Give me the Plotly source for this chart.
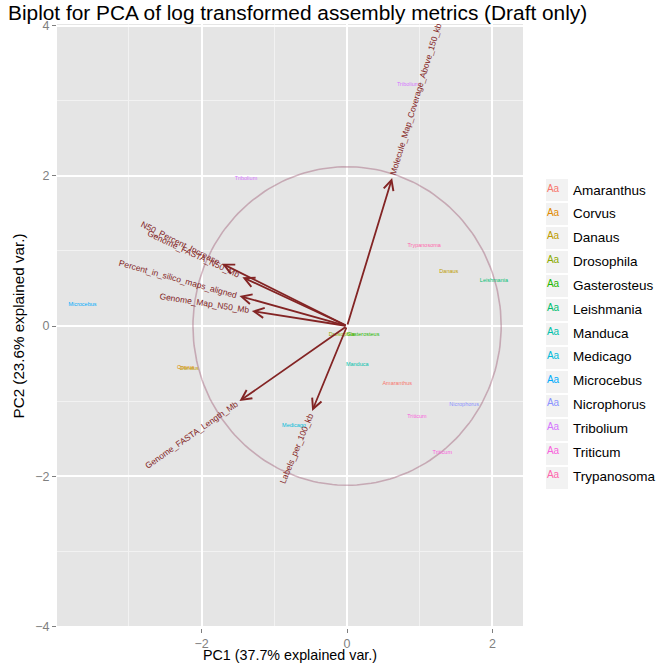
import math
import plotly.graph_objects as go

# ---------------- data ----------------
groups = ["Amaranthus", "Corvus", "Danaus", "Drosophila", "Gasterosteus", "Leishmania",
          "Manduca", "Medicago", "Microcebus", "Nicrophorus", "Tribolium", "Triticum",
          "Trypanosoma"]
group_colors = ["#F8766D", "#E18A00", "#BE9C00", "#8CAB00", "#24B700", "#00BE70",
                "#00C1AB", "#00BBDA", "#00ACFC", "#8B93FF", "#D575FE", "#F962DD",
                "#FF65AC"]

sample_group = ["Microcebus", "Tribolium", "Tribolium", "Trypanosoma", "Danaus", "Leishmania",
                "Drosophila", "Gasterosteus", "Manduca", "Amaranthus", "Nicrophorus",
                "Triticum", "Triticum", "Corvus", "Danaus", "Medicago"]
sample_pc1 = [-3.64, 0.84, -1.39, 1.06, 1.40, 2.02, -0.07, 0.22, 0.14, 0.69, 1.61,
              0.96, 1.31, -2.22, -2.17, -0.73]
sample_pc2 = [0.29, 3.21, 1.96, 1.07, 0.72, 0.61, -0.11, -0.11, -0.51, -0.77, -1.05,
              -1.21, -1.69, -0.56, -0.57, -1.33]

var_names = ["Molecule_Map_Coverage_Above_150_kb", "N50_Percent_Increase",
             "Genome_FASTA_N50_Mb", "Percent_in_silico_maps_aligned",
             "Genome_Map_N50_Mb", "Genome_FASTA_Length_Mb", "Labels_per_100_kb"]
var_pc1 = [0.62, -1.72, -1.44, -1.48, -1.31, -1.48, -0.48]
var_pc2 = [1.97, 0.83, 0.65, 0.40, 0.20, -1.00, -1.13]

circle_radius = 2.12

x_ticks = [-2, 0, 2]
y_ticks = [-4, -2, 0, 2, 4]

# ---------------- layout geometry ----------------
W, H = 656, 668
ML, MR, MT, MB = 57, 133, 24, 40
XR = [-3.99, 2.42]
YR = [-4.02, 4.02]
pw = W - ML - MR
ph = H - MT - MB
sx = pw / (XR[1] - XR[0])
sy = ph / (YR[1] - YR[0])

ARROW_COL = "#832424"
LABEL_SIZE = 8.5

HW = {c: .556 for c in "abdeghnopqu0123456789_"}
HW.update({'c': .5, 'f': .278, 'i': .222, 'j': .222, 'k': .5, 'l': .222, 'm': .833,
           'r': .333, 's': .5, 't': .278, 'v': .5, 'w': .722, 'x': .5, 'y': .5, 'z': .5,
           'A': .667, 'B': .667, 'C': .722, 'D': .722, 'E': .667, 'F': .611, 'G': .778,
           'H': .722, 'I': .278, 'L': .556, 'M': .833, 'N': .722, 'P': .667, 'R': .722,
           'S': .667, 'T': .611})


def text_width(s, size):
    return sum(HW.get(ch, .556) for ch in s) * size


fig = go.Figure()

# circle
th = [2 * math.pi * i / 200 for i in range(201)]
fig.add_trace(go.Scatter(x=[circle_radius * math.cos(t) for t in th],
                         y=[circle_radius * math.sin(t) for t in th],
                         mode="lines", line=dict(color="rgba(160,95,120,0.45)", width=1.6),
                         showlegend=False, hoverinfo="skip"))

# sample labels
for i, g in enumerate(groups):
    xs = [sample_pc1[k] for k in range(len(sample_group)) if sample_group[k] == g]
    ys = [sample_pc2[k] for k in range(len(sample_group)) if sample_group[k] == g]
    fig.add_trace(go.Scatter(x=xs, y=ys, mode="text", text=[g] * len(xs), name=g,
                             textfont=dict(color=group_colors[i], size=5.5,
                                           family="Liberation Sans"),
                             legendgroup=g, cliponaxis=False))

annotations = []
for name, vx, vy in zip(var_names, var_pc1, var_pc2):
    annotations.append(dict(x=vx, y=vy, ax=0, ay=0, xref="x", yref="y", axref="x", ayref="y",
                            showarrow=True, arrowhead=5, arrowsize=1.1, arrowwidth=1.8,
                            arrowcolor=ARROW_COL, text=""))
    dx, dy = vx * sx, -vy * sy
    L = math.hypot(dx, dy)
    ux, uy = dx / L, dy / L
    w = text_width(name, LABEL_SIZE)
    off = w / 2 + 3
    cx = vx + ux * off / sx
    cy = vy - uy * off / sy
    ang = math.degrees(math.atan(dy / dx))
    annotations.append(dict(x=cx, y=cy, xref="x", yref="y", text=name, showarrow=False,
                            textangle=ang, xanchor="center", yanchor="middle",
                            font=dict(color=ARROW_COL, size=LABEL_SIZE,
                                      family="Liberation Sans")))

# x axis title as annotation for precise placement
annotations.append(dict(x=0.5, y=-(655 - (MT + ph)) / ph, xref="paper", yref="paper",
                        text="PC1 (37.7% explained var.)", showarrow=False,
                        xanchor="center", yanchor="middle",
                        font=dict(size=14.3, color="black", family="Liberation Sans")))

# legend key boxes
shapes = []
box_top = 178
step = 24
for i in range(len(groups)):
    yc = box_top + 12 + i * step
    shapes.append(dict(type="rect", xref="paper", yref="paper",
                       x0=(546 - ML) / pw, x1=(568 - ML) / pw,
                       y0=1 - (yc - 11 - MT) / ph, y1=1 - (yc + 11 - MT) / ph,
                       fillcolor="#F2F2F2", line=dict(width=0), layer="below"))
leg_top = 174

fig.update_layout(
    width=W, height=H,
    margin=dict(l=ML, r=MR, t=MT, b=MB, autoexpand=False),
    paper_bgcolor="white", plot_bgcolor="#E5E5E5",
    font=dict(family="Liberation Sans", color="black"),
    title=dict(text="Biplot for PCA of log transformed assembly metrics (Draft only)",
               x=8 / W, xref="container", xanchor="left",
               y=1 - 13 / H, yref="container", yanchor="middle",
               font=dict(size=20.85, color="black")),
    xaxis=dict(range=XR, tickvals=x_ticks, ticktext=[str(v).replace("-", "\u2212") for v in x_ticks],
               showgrid=True, gridcolor="white", gridwidth=1.6, zeroline=False,
               ticks="outside", ticklen=4, tickcolor="#7F7F7F", tickwidth=1,
               tickfont=dict(size=12.5, color="#7F7F7F"),
               minor=dict(tickvals=[-3, -1, 1], showgrid=True, gridcolor="#F2F2F2",
                          gridwidth=0.8, ticks=""),
               showline=False),
    yaxis=dict(range=YR, tickvals=y_ticks, ticktext=[str(v).replace("-", "\u2212") for v in y_ticks],
               showgrid=True, gridcolor="white", gridwidth=1.6, zeroline=False,
               ticks="outside", ticklen=4, tickcolor="#7F7F7F", tickwidth=1,
               tickfont=dict(size=12.5, color="#7F7F7F"),
               minor=dict(tickvals=[-3, -1, 1, 3], showgrid=True, gridcolor="#F2F2F2",
                          gridwidth=0.8, ticks=""),
               title=dict(text="PC2 (23.6% explained var.)", font=dict(size=15.2), standoff=6),
               showline=False),
    legend=dict(x=(533 - ML) / pw, xanchor="left", y=1 - (leg_top - MT) / ph, yanchor="top",
                font=dict(size=13.5, color="black"), tracegroupgap=3.3,
                bgcolor="rgba(0,0,0,0)", itemsizing="constant"),
    annotations=annotations,
    shapes=shapes,
)

fig.write_html("out.html")
